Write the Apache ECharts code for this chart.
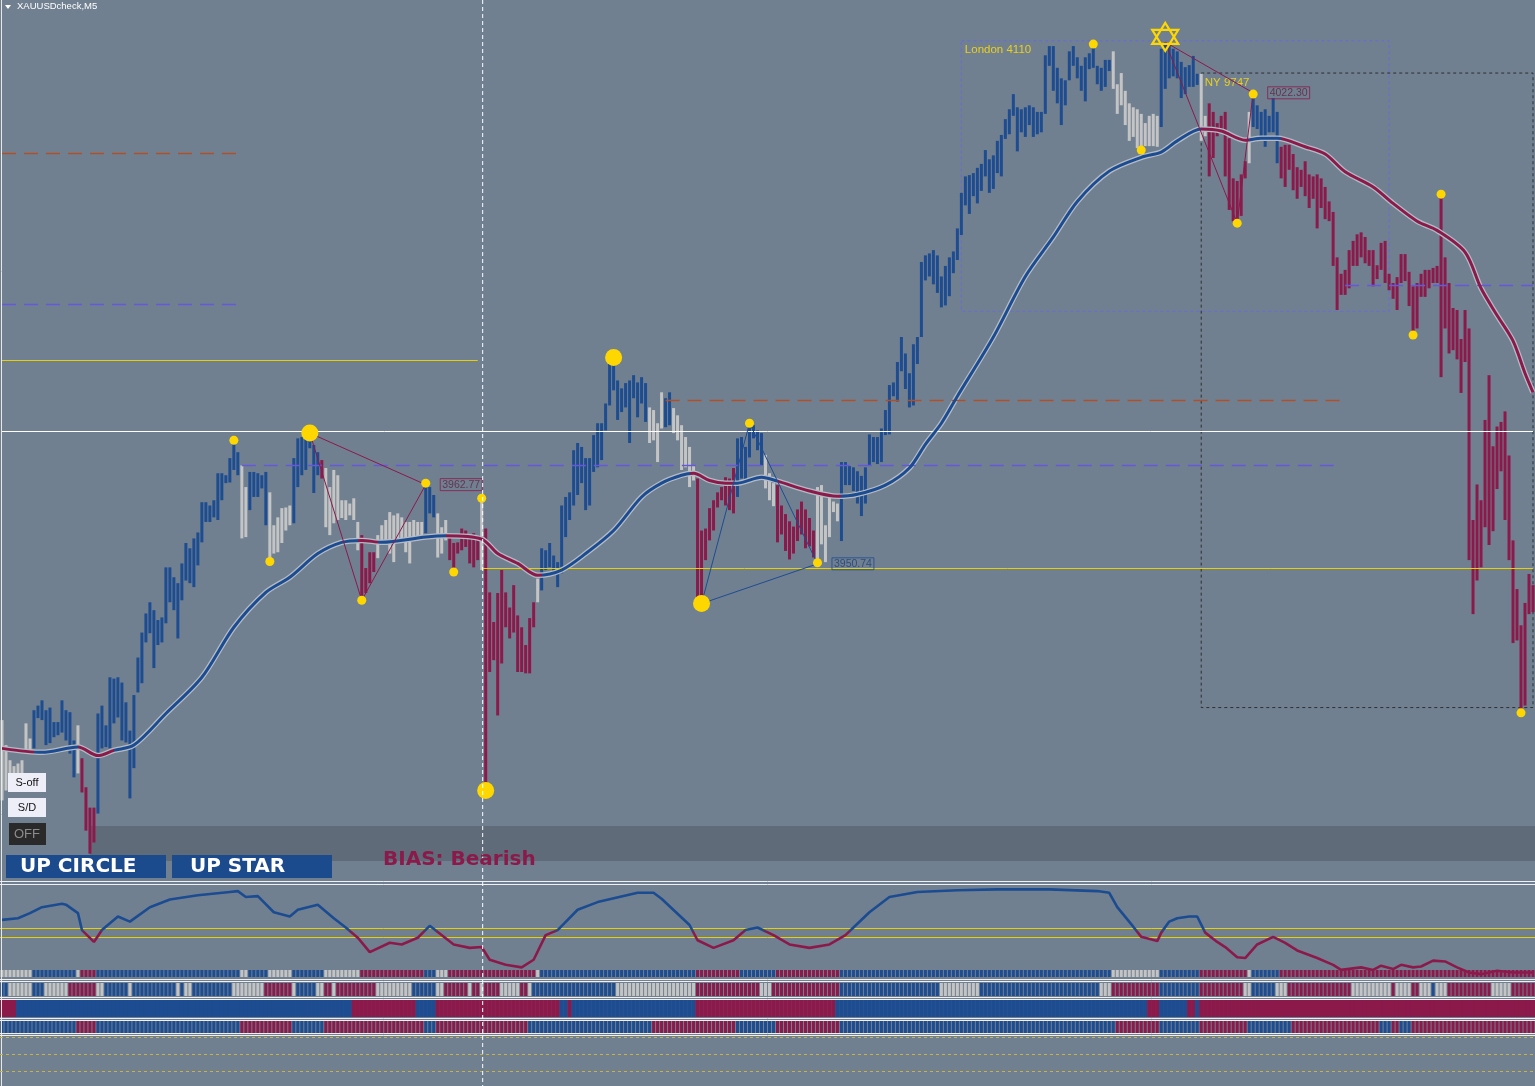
<!DOCTYPE html>
<html><head><meta charset="utf-8">
<script src="https://cdn.jsdelivr.net/npm/echarts@6/dist/echarts.min.js"></script>
<style>html,body{margin:0;padding:0;background:#708090;overflow:hidden}#c{width:1535px;height:1086px}</style>
</head><body><div id="c"></div>
<script>
// ---------- DATA (prices) ----------
const barHigh = [
3927.0,3923.2,3920.9,3920.0,3920.4,3920.9,3926.5,3924.2,
3928.5,3929.2,3930.0,3928.5,3928.9,3926.7,3926.7,3930.0,3928.5,3928.2,
3923.9,3926.2,3921.2,3916.8,3913.7,3913.7,3928.0,3929.2,3926.2,3933.5,
3933.3,3933.5,3932.7,3929.7,3925.4,3930.8,3936.5,3940.3,3943.2,3944.9,
3943.7,3942.2,3942.6,3950.2,3950.2,3948.7,3947.8,3950.8,3953.9,3953.1,
3954.6,3955.5,3960.1,3960.1,3959.6,3960.4,3964.5,3964.5,3964.2,3966.8,
3969.5,3967.7,3965.7,3962.4,3964.7,3964.7,3964.5,3964.2,3964.7,3961.6,
3956.6,3957.8,3959.2,3959.3,3959.6,3966.8,3969.8,3970.0,3970.0,3970.6,
3968.8,3967.7,3966.5,3965.3,3962.4,3965.0,3964.2,3960.4,3960.4,3959.9,
3960.7,3957.1,3955.1,3950.1,3952.5,3952.5,3955.1,3956.6,3957.4,3958.6,
3958.1,3958.4,3957.8,3957.1,3957.1,3957.4,3957.1,3957.1,3963.0,3962.4,
3961.2,3958.4,3956.3,3957.4,3954.8,3953.9,3954.0,3956.1,3955.8,3955.1,
3955.4,3954.6,3960.7,3956.1,3946.4,3941.9,3946.3,3949.8,3946.4,3944.1,
3947.5,3942.9,3941.1,3938.4,3942.5,3944.9,3948.5,3953.1,3952.8,3953.9,
3952.0,3951.0,3959.6,3960.9,3961.6,3968.0,3969.1,3968.5,3966.8,3966.8,
3970.3,3972.1,3972.1,3975.1,3982.1,3982.1,3978.6,3977.4,3978.2,3978.6,
3979.4,3978.3,3979.1,3978.2,3974.5,3974.1,3972.1,3976.8,3975.9,3976.8,
3974.4,3973.3,3971.8,3970.0,3968.5,3965.7,3963.7,3955.8,3956.1,3959.2,
3960.4,3961.6,3962.4,3963.9,3963.7,3965.3,3969.8,3970.0,3968.5,3972.1,
3971.8,3971.0,3970.6,3967.3,3964.5,3963.0,3962.7,3959.6,3958.3,3957.2,
3956.4,3959.0,3960.2,3959.0,3957.7,3955.8,3962.4,3962.7,3956.6,3961.3,
3960.2,3959.9,3966.2,3966.2,3965.6,3965.4,3964.8,3964.1,3965.4,3970.4,
3970.0,3970.0,3971.3,3974.1,3977.9,3978.3,3981.4,3985.2,3982.7,3979.7,
3984.1,3985.2,3996.6,3997.6,3997.9,3998.4,3997.6,3994.4,3996.0,3997.3,
3998.2,4001.7,4007.1,4009.6,4009.8,4010.1,4010.9,4011.5,4013.6,4012.2,
4012.8,4015.0,4015.9,4018.3,4019.8,4022.1,4020.1,4019.8,4020.1,4020.4,
4020.1,4019.4,4019.4,4028.0,4029.4,4029.4,4026.1,4024.5,4024.2,4028.6,
4029.4,4027.7,4026.4,4027.7,4028.3,4029.7,4026.4,4026.1,4027.3,4027.3,
4028.6,4023.6,4025.3,4022.6,4020.7,4020.1,4019.8,4019.1,4017.7,4018.8,
4019.1,4018.8,4029.0,4030.0,4029.6,4029.0,4028.6,4027.0,4026.2,4026.5,
4027.9,4025.2,4025.2,4018.8,4020.7,4019.4,4017.7,4018.8,4019.4,4015.4,
4009.3,4008.9,4009.9,4011.9,4019.4,4022.1,4020.4,4019.4,4019.8,4018.8,
4021.5,4019.4,4014.1,4014.4,4014.4,4013.0,4011.0,4010.6,4011.9,4009.9,
4009.6,4009.9,4009.3,4008.0,4005.8,4004.2,3997.3,3994.8,3995.4,3998.4,
3999.8,4000.8,4001.1,4000.4,3998.4,3998.4,3996.1,3999.5,3999.8,3994.8,
3993.4,3994.3,3997.8,3997.8,3995.1,3992.9,3993.4,3994.8,3995.4,3995.4,
3995.7,3996.0,4006.9,3997.3,3993.4,3989.6,3989.3,3984.9,3989.3,3986.5,
3957.4,3962.8,3960.4,3972.6,3979.4,3968.6,3971.6,3972.3,3973.9,3967.2,
3954.3,3946.9,3941.4,3944.8,3949.2,3947.5];
const barLow = [
3914.8,3916.3,3917.5,3918.1,3918.1,3918.1,3921.9,3922.1,
3922.7,3927.3,3927.0,3923.2,3923.5,3924.4,3924.7,3925.1,3923.9,3921.9,
3918.3,3918.9,3916.0,3910.2,3906.7,3908.4,3912.8,3922.7,3922.9,3922.7,
3926.5,3927.4,3923.9,3923.6,3915.1,3919.7,3931.2,3932.6,3938.8,3940.2,
3934.9,3938.4,3938.8,3941.7,3944.9,3943.7,3939.4,3945.2,3948.2,3947.8,
3947.2,3950.5,3954.0,3957.1,3957.1,3957.8,3957.4,3960.4,3963.0,3963.1,
3965.0,3964.2,3954.6,3954.8,3958.9,3960.9,3960.9,3962.2,3956.6,3951.3,
3952.3,3952.5,3953.9,3955.8,3956.6,3956.9,3962.4,3964.2,3965.0,3968.3,
3961.5,3964.2,3963.7,3956.3,3955.1,3956.9,3957.4,3957.7,3957.4,3958.1,
3957.4,3952.8,3945.2,3946.3,3947.8,3949.5,3951.6,3953.9,3953.9,3952.3,
3951.0,3953.9,3954.3,3952.5,3950.8,3954.3,3954.3,3955.1,3955.4,3958.4,
3957.8,3951.7,3952.3,3954.3,3951.3,3949.5,3952.3,3952.8,3953.3,3950.8,
3950.2,3951.3,3949.8,3916.3,3934.3,3936.1,3927.7,3935.6,3941.1,3939.4,
3940.3,3934.3,3934.3,3934.1,3934.1,3941.1,3944.9,3946.7,3949.8,3950.2,
3949.3,3947.2,3949.3,3954.8,3957.4,3959.6,3961.2,3963.0,3958.9,3959.6,
3964.7,3965.4,3966.5,3971.0,3974.8,3977.1,3972.6,3973.8,3974.5,3969.1,
3975.9,3973.0,3975.1,3972.3,3969.1,3969.5,3966.2,3971.3,3971.5,3971.8,
3970.6,3969.5,3965.0,3965.4,3962.4,3963.4,3945.5,3944.7,3951.3,3954.3,
3955.8,3959.3,3960.4,3959.6,3958.9,3958.4,3960.9,3963.7,3963.4,3966.9,
3969.8,3968.0,3965.7,3962.2,3960.4,3959.5,3954.0,3955.2,3952.7,3951.4,
3952.3,3954.2,3955.2,3953.1,3953.4,3951.7,3951.0,3953.7,3951.0,3954.8,
3958.6,3957.2,3954.2,3962.7,3962.7,3961.8,3959.9,3958.0,3959.9,3965.6,
3966.2,3965.9,3966.2,3970.3,3970.4,3976.2,3975.4,3980.0,3977.3,3974.5,
3974.8,3981.1,3985.2,3993.8,3994.4,3993.2,3991.9,3989.7,3990.0,3991.4,
3994.9,3996.9,4000.7,4005.2,4003.9,4006.6,4005.5,4007.4,4009.6,4007.1,
4007.7,4010.1,4009.6,4015.3,4016.0,4018.8,4013.4,4016.3,4015.6,4017.4,
4015.6,4016.0,4016.3,4019.1,4026.4,4022.6,4020.7,4017.4,4020.4,4024.2,
4026.4,4024.5,4022.6,4021.0,4025.9,4026.1,4023.6,4022.6,4023.2,4025.6,
4022.9,4019.1,4020.4,4017.4,4015.0,4015.6,4013.9,4013.6,4014.2,4014.2,
4014.2,4014.1,4017.1,4022.9,4024.5,4024.8,4024.5,4021.5,4022.1,4023.2,
4023.2,4023.5,4015.0,4015.7,4009.6,4012.4,4015.7,4016.3,4009.6,4004.5,
4002.8,4002.5,4003.6,4009.3,4011.6,4017.1,4016.8,4015.7,4014.1,4016.3,
4016.3,4011.6,4009.3,4008.0,4010.6,4007.5,4006.2,4008.0,4006.6,4004.8,
4006.2,4001.7,4004.8,4003.1,4002.8,3996.0,3989.3,3991.6,3991.6,3992.6,
3996.0,3996.0,3997.3,3996.4,3996.0,3992.9,3994.0,3995.4,3993.4,3992.3,
3991.0,3989.3,3993.4,3993.7,3989.9,3985.5,3986.5,3991.3,3991.3,3992.6,
3993.4,3993.4,3979.1,3986.5,3982.7,3983.2,3981.8,3976.7,3981.4,3951.3,
3943.1,3948.2,3950.2,3956.3,3953.6,3955.7,3962.1,3964.8,3957.4,3951.3,
3938.7,3939.1,3928.1,3929.2,3943.1,3943.4];
// bar state runs: b = up (blue), r = down (crimson), g = neutral (silver)
const barColorRuns = [['g',8],['b',11],['g',1],['r',4],['b',36],['g',2],['b',5],['g',6],['b',7],['r',1],['g',9],['r',4],['g',12],['b',3],['g',3],['r',8],['g',1],['r',13],['g',1],['b',27],['g',4],['b',2],['g',6],['r',10],['b',7],['g',3],['r',10],['g',6],['b',68],['g',12],['b',10],['g',2],['r',10],['g',1],['b',7],['r',64]];

const maIdx = [0,10,19,24,28,33,41,50,58,66,72,79,85,90,95,106,111,120,124,129,134,140,146,153,160,165,170,173,177,181,184,190,194,202,209,214,221,227,231,235,239,248,256,263,269,277,285,290,294,300,305,311,315,319,326,331,336,343,348,354,359,366,370,374,378,381,383];
const maVal = [3922.7,3922.1,3922.9,3921.6,3922.4,3923.2,3928.0,3933.5,3941.1,3946.4,3948.7,3952.3,3954.0,3954.3,3954.0,3954.8,3955.0,3954.5,3952.3,3950.8,3949.0,3949.8,3952.3,3955.8,3960.9,3963.0,3964.2,3964.5,3963.4,3963.0,3963.0,3963.9,3963.3,3961.8,3961.0,3961.3,3962.7,3965.3,3968.9,3972.1,3976.2,3985.2,3994.4,4000.4,4005.8,4010.4,4012.5,4013.3,4015.0,4016.8,4016.5,4015.1,4015.4,4015.4,4014.1,4013.0,4010.3,4008.0,4005.5,4002.8,4001.4,3998.1,3992.6,3988.5,3984.6,3979.7,3976.8];
const maColorRuns = [['r',8],['b',11],['r',9],['b',61],['r',5],['b',17],['r',24],['b',37],['r',11],['b',11],['r',16],['b',90],['r',12],['b',8],['r',64]];

const swingSmall = [[58,3969.5],[67,3951.1],[90,3945.2],[106,3963.0],[113,3949.5],[120,3960.7],[187,3972.1],[204,3950.9],[273,4029.7],[285,4013.6],[309,4002.5],[313,4022.1],[353,3985.5],[360,4006.9],[380,3928.1]];
const swingBig = [[77,3970.6],[121,3916.3],[153,3982.1],[175,3944.7]];
const starPoint = [[291,4030.8]];
const zigzagDown1 = [[77,3970.6],[90,3945.2],[106,3962.77],[77,3970.6]];
const zigzagUp = [[175,3944.7],[187,3972.1],[204,3950.74],[175,3944.7]];
const zigzagDown2 = [[291,4030.0],[309,4002.5],[313,4022.3],[291,4030.0]];
const priceTags = [[106,3962.77,'r'],[204,3950.74,'b'],[313,4022.30,'r']];

// horizontal levels: price, from bar, to bar, kind
const levels = [
  [4013.1,0,59,'brown'],[3990.2,0,59,'blue'],[3981.7,0,119,'yellow'],
  [3975.6,166,336,'brown'],[3965.7,60,335,'blue'],[3950.1,120,383,'yellow'],[3993.1,336,383,'blue']];
const fullLevel = 3970.9;
const sessionBoxes = [
  {name:'London 4110', i0:240, i1:347, top:4030.2, bottom:3989.1, kind:'london'},
  {name:'NY 9747', i0:300, i1:383, top:4025.3, bottom:3928.9, kind:'ny'}];
const markerBar = 120;

const oscIdx = [0,4,7,10,15,16,19,20,23,25,29,32,37,42,49,57,59,61,64,68,72,74,79,83,86,89,92,97,100,104,107,113,117,120,122,126,130,133,136,139,144,149,159,163,165,172,174,178,183,186,189,193,197,202,207,211,213,217,222,229,239,249,262,274,277,279,283,285,289,290,292,294,297,299,301,304,306,309,311,314,318,321,324,329,333,335,340,343,345,348,350,353,355,358,361,364,367,370,374,378,383];
const oscVal = [60,62,68,75,79,78,68,48,34,48,64,58,75,84,89,93,94,87,88,69,64,72,78,62,51,39,22,33,31,39,53,31,27,28,13,7,4,13,42,48,72,81,92,92,85,54,36,27,36,48,51,42,31,27,31,42,51,69,87,93,95,96,96,94,92,75,52,40,35,45,58,62,64,64,45,34,28,16,15,31,40,33,24,15,7,1,4,1,6,2,7,4,5,12,11,4,-2,-4,0,-2,-2];
const oscLevels = [50,40];

const strip1Runs = [['g',8],['b',11],['g',1],['r',4],['b',36],['g',2],['b',5],['g',6],['b',8],['g',9],['r',16],['b',3],['g',3],['r',22],['g',1],['b',39],['r',11],['b',9],['r',16],['b',68],['g',12],['b',10],['r',12],['g',1],['b',7],['r',64]];
const strip2Runs = [['b',2],['g',6],['b',3],['g',6],['r',7],['g',2],['b',6],['g',1],['b',11],['g',1],['b',1],['g',2],['b',10],['g',8],['r',7],['g',1],['b',5],['g',2],['r',2],['g',1],['r',10],['g',9],['b',6],['g',2],['r',6],['g',1],['r',2],['g',1],['r',4],['g',5],['r',2],['g',1],['b',17],['b',4],['g',20],['r',16],['g',3],['r',17],['b',25],['g',10],['b',30],['g',3],['r',12],['b',10],['r',11],['g',2],['b',6],['g',3],['r',16],['g',10],['r',1],['g',4],['r',2],['g',3],['b',1],['g',3],['r',11],['g',5],['r',6]];
const strip3Runs = [['r',4],['b',84],['r',16],['b',5],['r',31],['b',2],['r',1],['b',31],['r',35],['b',78],['r',3],['b',7],['r',2],['b',1],['r',84]];
const strip4Runs = [['b',19],['r',5],['b',36],['r',13],['b',8],['r',25],['b',3],['r',23],['b',31],['r',21],['b',10],['r',16],['b',69],['r',11],['b',10],['r',12],['b',11],['r',22],['b',3],['r',2],['b',3],['r',31]];

// ---------- STYLE ----------
const COL = {b:'#1d4c91', r:'#8b1a4b', g:'#c4c4c4'};
const LINECOL = {b:'#1b4b90', r:'#8b1a4b'};
const LEVELSTYLE = {
  brown:{color:'#b0502a', type:[14,8], width:1.3},
  blue:{color:'#6658dc', type:[14,8], width:1.3},
  yellow:{color:'#e8cf00', type:'solid', width:1}};
const YEL = '#ffd700';
const FONT = '"Liberation Sans","DejaVu Sans",sans-serif';
const BOLDFONT = '"DejaVu Sans","Liberation Sans",sans-serif';

function expand(runs){const o=[];runs.forEach(([c,n])=>{for(let k=0;k<n;k++)o.push(c);});return o;}
function pieces(runs){const p=[];let s=0;runs.forEach(([c,n])=>{p.push({gte:s-0.5,lt:s+n-0.5,color:LINECOL[c]});s+=n;});return p;}

const N = barHigh.length;
const cats = barHigh.map((_,i)=>String(i));
const barCols = expand(barColorRuns);

const grids = [
  {left:0,width:1536,top:0,height:882},
  {left:0,width:1536,top:886,height:89},
  {left:0,width:1536,top:970,height:7},
  {left:0,width:1536,top:983,height:13},
  {left:0,width:1536,top:1000,height:17},
  {left:0,width:1536,top:1021,height:12}];
const yRanges = [[3902.4,4036.4],[-5,100],[0,1],[0,1],[0,1],[0,1]];

function stripSeries(runs, g, w){
  const cols = expand(runs);
  return {type:'custom', xAxisIndex:g, yAxisIndex:g, silent:true, data:cols.map((c,i)=>[i,1]),
    renderItem:(params,api)=>{const i=api.value(0);const a=api.coord([i,1]);const b=api.coord([i,0]);
      return {type:'rect',shape:{x:a[0]-w/2,y:a[1],width:w,height:b[1]-a[1]},style:{fill:COL[cols[params.dataIndex]]}};}};
}

const levelLines = levels.map(([p,a,b,k])=>[{coord:[a,p],lineStyle:LEVELSTYLE[k]},{coord:[b,p]}]);
levelLines.push([{coord:[0,fullLevel],lineStyle:{color:'#ffffff',type:'solid',width:1}},{coord:[N-1,fullLevel]}]);

const boxAreas = sessionBoxes.map(bx=>[{coord:[bx.i0,bx.top],
  itemStyle:{color:'rgba(0,0,0,0)',borderColor:bx.kind==='london'?'#6a6ad8':'#2e2e2e',borderWidth:1,borderType:[3,3]},
  label:{show:true,position:'insideTopLeft',distance:4,formatter:bx.name,color:'#e8cf20',fontSize:11.5,fontFamily:FONT}},
  {coord:[bx.i1,bx.bottom]}]);

const series = [
  {type:'custom', name:'bars', xAxisIndex:0, yAxisIndex:0, z:3,
   data:barHigh.map((h,i)=>[i,h,barLow[i]]), encode:{x:0,y:[1,2]},
   renderItem:(params,api)=>{const i=api.value(0);const p1=api.coord([i,api.value(1)]);const p2=api.coord([i,api.value(2)]);
     return {type:'rect',shape:{x:p1[0]-1.5,y:p1[1],width:3,height:Math.max(2,p2[1]-p1[1])},style:{fill:COL[barCols[params.dataIndex]]}};}},
  {type:'line', name:'maOutline', xAxisIndex:0, yAxisIndex:0, z:4, symbol:'none', smooth:0.3, silent:true,
   data:maIdx.map((x,k)=>[x,maVal[k]]), lineStyle:{color:'#b4bbc5',width:5.5},
   markLine:{silent:true,symbol:['none','none'],label:{show:false},data:levelLines},
   markArea:{silent:true,data:boxAreas}},
  {type:'line', name:'ma', xAxisIndex:0, yAxisIndex:0, z:5, symbol:'none', smooth:0.3, silent:true,
   data:maIdx.map((x,k)=>[x,maVal[k]]), lineStyle:{width:3}},
  {type:'line', xAxisIndex:0, yAxisIndex:0, z:6, symbol:'none', silent:true, data:zigzagDown1, lineStyle:{color:COL.r,width:1}},
  {type:'line', xAxisIndex:0, yAxisIndex:0, z:6, symbol:'none', silent:true, data:zigzagUp, lineStyle:{color:COL.b,width:1}},
  {type:'line', xAxisIndex:0, yAxisIndex:0, z:6, symbol:'none', silent:true, data:zigzagDown2, lineStyle:{color:COL.r,width:1}},
  {type:'scatter', xAxisIndex:0, yAxisIndex:0, z:7, symbolSize:9, data:swingSmall, itemStyle:{color:YEL,opacity:1}},
  {type:'scatter', xAxisIndex:0, yAxisIndex:0, z:7, symbolSize:17, data:swingBig, itemStyle:{color:YEL,opacity:1}},
  {type:'scatter', xAxisIndex:0, yAxisIndex:0, z:8, symbol:'path://M12 0 L22.4 18 L1.6 18 Z M12 24 L1.6 6 L22.4 6 Z', symbolSize:[26,28],
   data:starPoint, itemStyle:{color:'rgba(0,0,0,0)',borderColor:YEL,borderWidth:2.2,opacity:1}},
  {type:'scatter', xAxisIndex:0, yAxisIndex:0, z:8, symbolSize:1, itemStyle:{color:'rgba(0,0,0,0)'},
   data:priceTags.map(([i,p,c])=>({value:[i,p],label:{show:true,position:'right',distance:14,formatter:p.toFixed(2),
     color:c==='r'?'#5e1f3f':'#1c3f78',borderColor:c==='r'?COL.r:COL.b,borderWidth:1,padding:[1,2,0,2],
     fontSize:10.5,fontFamily:FONT}}))},
  {type:'line', name:'osc', xAxisIndex:1, yAxisIndex:1, z:5, symbol:'none', silent:true,
   data:oscIdx.map((x,k)=>[x,oscVal[k]]), lineStyle:{width:2.6},
   markLine:{silent:true,symbol:['none','none'],label:{show:false},lineStyle:{color:'#e8cf00',type:'solid',width:1},
     data:oscLevels.map(v=>({yAxis:v}))}},
  stripSeries(strip1Runs,2,3),
  stripSeries(strip2Runs,3,3),
  stripSeries(strip3Runs,4,4.3),
  stripSeries(strip4Runs,5,3)
];

const option = {
  backgroundColor:'#708090', animation:false,
  grid:grids,
  xAxis:grids.map((g,k)=>({type:'category',gridIndex:k,data:cats,boundaryGap:true,show:false})),
  yAxis:grids.map((g,k)=>({type:'value',gridIndex:k,min:yRanges[k][0],max:yRanges[k][1],show:false})),
  visualMap:[
    {type:'piecewise',show:false,seriesIndex:2,dimension:0,pieces:pieces(maColorRuns)},
    {type:'piecewise',show:false,seriesIndex:10,dimension:1,pieces:[{gte:-20,lt:47,color:LINECOL.r},{gte:47,lte:120,color:LINECOL.b}]}],
  series:series
};

const chart = echarts.init(document.getElementById('c'));
chart.setOption(option);
const vx = chart.convertToPixel({xAxisIndex:0}, markerBar);

function hline(y,x1,x2,stroke,dash,z){return {type:'line',z:z||50,silent:true,shape:{x1:x1,y1:y,x2:x2,y2:y},style:{stroke:stroke,lineWidth:1,lineDash:dash||null}};}
const elements = [
  {type:'rect',z:0,silent:true,shape:{x:90,y:826,width:1445,height:35},style:{fill:'#5f6b79'}},
  {type:'polygon',z:50,shape:{points:[[5,5],[11,5],[8,9]]},style:{fill:'#ffffff'}},
  {type:'text',z:50,x:17,y:1.5,style:{text:'XAUUSDcheck,M5',fill:'#ffffff',font:'9.5px '+FONT}},
  {type:'line',z:50,shape:{x1:1.5,y1:0,x2:1.5,y2:1086},style:{stroke:'#e8e8e8',lineWidth:1}},
  hline(881.5,0,1535,'#f0f0f0'),hline(884.5,0,1535,'#f0f0f0'),
  hline(979.5,0,1535,'#f0f0f0'),hline(981.5,0,1535,'#f0f0f0'),
  hline(997.5,0,1535,'#f0f0f0'),hline(999.5,0,1535,'#f0f0f0'),
  hline(1018.5,0,1535,'#f0f0f0'),hline(1020.5,0,1535,'#f0f0f0'),
  hline(1033.5,0,1535,'#f0f0f0'),hline(1035.5,0,1535,'#f0f0f0'),
  hline(1037.5,0,1535,'#c8b43c',[3,3]),hline(1054.5,0,1535,'#c8b43c',[3,3]),hline(1071.5,0,1535,'#c8b43c',[3,3]),
  {type:'line',z:60,silent:true,shape:{x1:vx+1,y1:0,x2:vx+1,y2:1086},style:{stroke:'#ffffff',lineWidth:1,lineDash:[4,3]}},
  {type:'rect',z:70,shape:{x:8,y:773,width:38,height:19},style:{fill:'#eeeef8'}},
  {type:'text',z:71,x:27,y:782.5,style:{text:'S-off',fill:'#111',font:'11px '+FONT,align:'center',verticalAlign:'middle'}},
  {type:'rect',z:70,shape:{x:8,y:798,width:38,height:19},style:{fill:'#eeeef8'}},
  {type:'text',z:71,x:27,y:807.5,style:{text:'S/D',fill:'#111',font:'11px '+FONT,align:'center',verticalAlign:'middle'}},
  {type:'rect',z:70,shape:{x:9,y:823,width:37,height:22},style:{fill:'#2a2a2a'}},
  {type:'text',z:71,x:27,y:834,style:{text:'OFF',fill:'#8c8c8c',font:'13px '+FONT,align:'center',verticalAlign:'middle'}},
  {type:'rect',z:70,shape:{x:6,y:855,width:160,height:23},style:{fill:'#1b4a8d'}},
  {type:'text',z:71,x:20,y:867,style:{text:'UP CIRCLE',fill:'#ffffff',font:'bold 20px '+BOLDFONT,verticalAlign:'middle'}},
  {type:'rect',z:70,shape:{x:172,y:855,width:160,height:23},style:{fill:'#1b4a8d'}},
  {type:'text',z:71,x:190,y:867,style:{text:'UP STAR',fill:'#ffffff',font:'bold 20px '+BOLDFONT,verticalAlign:'middle'}},
  {type:'text',z:71,x:383,y:860,style:{text:'BIAS: Bearish',fill:'#8b1a4b',font:'bold 20px '+BOLDFONT,verticalAlign:'middle'}}
];
chart.setOption({graphic:{elements:elements}});
</script>
</body></html>
